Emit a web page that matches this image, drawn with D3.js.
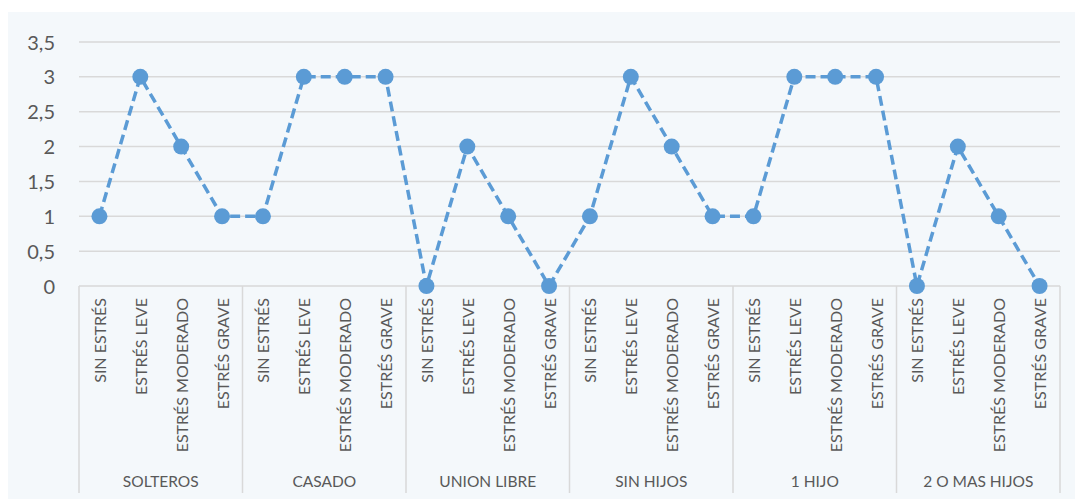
<!DOCTYPE html>
<html><head><meta charset="utf-8">
<script src="https://cdn.jsdelivr.net/npm/d3@7"></script>
<style>
html,body{margin:0;padding:0;background:#fff;}
svg{display:block;}
text{font-family:Lato,"Open Sans",sans-serif;fill:#595959;}
</style></head><body>
<svg id="chart" width="1075" height="499"></svg>
<script>
const groups = ["SOLTEROS","CASADO","UNION LIBRE","SIN HIJOS","1 HIJO","2 O MAS HIJOS"];
const levels = ["SIN ESTRÉS","ESTRÉS LEVE","ESTRÉS MODERADO","ESTRÉS GRAVE"];
const values = [1,3,2,1, 1,3,3,3, 0,2,1,0, 1,3,2,1, 1,3,3,3, 0,2,1,0];
const yTicks = [0,0.5,1,1.5,2,2.5,3,3.5];

(function(){
const svg = d3.select("#chart");
const W = 1075, H = 499;
const mLeft = 79, mRight = 1060, mTop = 42, mBottom = 286;

svg.append("rect").attr("x",8).attr("y",12).attr("width",W-8).attr("height",H-12).attr("fill","#F4F8FB");

const cats = [];
groups.forEach((g,gi)=>levels.forEach((l,li)=>cats.push({g,l,key:gi+"-"+li})));

const x = d3.scaleBand().domain(cats.map(c=>c.key)).range([mLeft,mRight]);
const y = d3.scaleLinear().domain([0,3.5]).range([mBottom,mTop]);
const fmt = v => String(v).replace(".",",");

svg.append("g").selectAll("line").data(yTicks).join("line")
  .attr("x1",mLeft).attr("x2",mRight)
  .attr("y1",d=>y(d)).attr("y2",d=>y(d))
  .attr("stroke","#D9D9D9").attr("stroke-width",1.5);

const yAxis = d3.axisLeft(y).tickValues(yTicks).tickFormat(fmt).tickSize(0).tickPadding(0);
const ya = svg.append("g").attr("transform",`translate(${mLeft-24},0)`).call(yAxis);
ya.select(".domain").remove();
ya.selectAll("text").attr("font-size",20).attr("fill","#595959")
  .attr("font-family",'Lato,"Open Sans",sans-serif').attr("dy","0.35em");

const band = x.bandwidth();
const seps = d3.range(groups.length+1).map(i=> i<groups.length ? x(i+"-0") : mRight);
svg.append("g").selectAll("line").data(seps).join("line")
  .attr("x1",d=>d).attr("x2",d=>d).attr("y1",mBottom).attr("y2",493)
  .attr("stroke","#D9D9D9").attr("stroke-width",1.5);

svg.append("g").selectAll("text").data(cats).join("text")
  .attr("transform",d=>`translate(${x(d.key)+band/2+6.5},298) rotate(-90)`)
  .attr("text-anchor","end").attr("font-size",16)
  .text(d=>d.l);

svg.append("g").selectAll("text").data(groups).join("text")
  .attr("x",(d,i)=>(seps[i]+seps[i+1])/2).attr("y",487)
  .attr("text-anchor","middle").attr("font-size",15.5)
  .text(d=>d);

const line = d3.line().x((d,i)=>x(cats[i].key)+band/2).y(d=>y(d));
svg.append("path").datum(values).attr("d",line)
  .attr("fill","none").attr("stroke","#5B9BD5").attr("stroke-width",3.5)
  .attr("stroke-dasharray","10,5").attr("stroke-linecap","butt");

svg.append("g").selectAll("circle").data(values).join("circle")
  .attr("cx",(d,i)=>x(cats[i].key)+band/2).attr("cy",d=>y(d)).attr("r",8)
  .attr("fill","#5B9BD5");
})();
</script>
</body></html>
